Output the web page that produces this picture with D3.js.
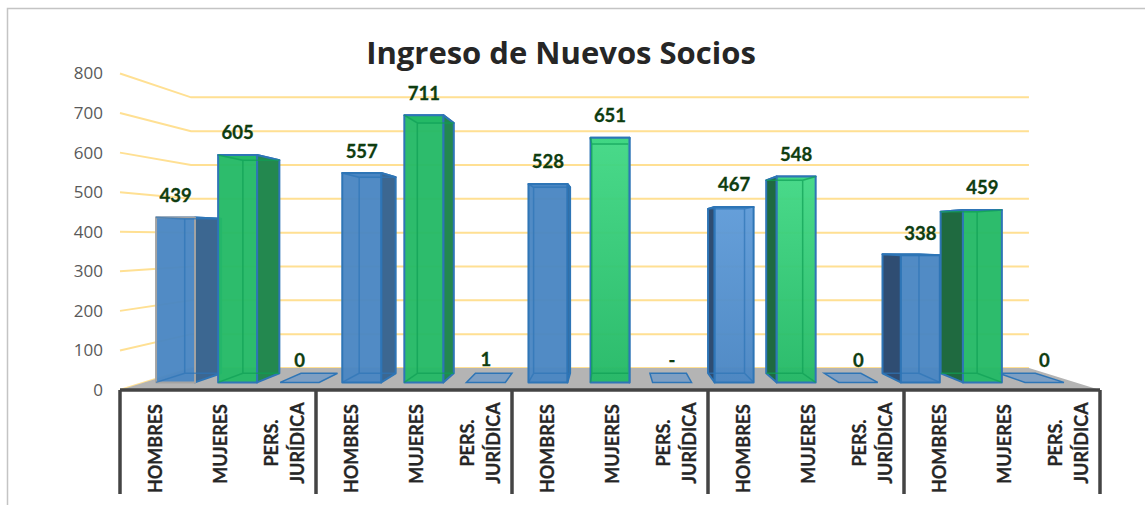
<!DOCTYPE html>
<html>
<head>
<meta charset="utf-8">
<script src="https://cdn.jsdelivr.net/npm/d3@7"></script>
<style>
html, body { margin: 0; padding: 0; background: #fff; }
svg { display: block; }
</style>
</head>
<body>
<svg width="1145" height="505"></svg>
<script>
var title = "Ingreso de Nuevos Socios";
var categories = ["HOMBRES", "MUJERES", "PERS. JURÍDICA"];
var groupCount = 5;
// null is the "-" label of the third group
var values = [439, 605, 0, 557, 711, 1, 528, 651, null, 467, 548, 0, 338, 459, 0];
var ticks = [0, 100, 200, 300, 400, 500, 600, 700, 800];

var svg = d3.select("svg");

// frame, open on the right
svg.append("path")
    .attr("d", "M7.5,505V8.5H1145")
    .attr("fill", "none")
    .attr("stroke", "#c4c4c4")
    .attr("stroke-width", 1.5);

// pseudo 3d: everything is projected towards one vanishing point
var vanishX = 610, vanishY = 238;
var x = d3.scaleBand().domain(d3.range(values.length)).range([120, 1100]);
var y = d3.scaleLinear().domain([0, 800]).range([390, 73.5]);

var wallDepth = 0.855, barFront = 0.95, barBack = 0.89;
var barWidth = 41;

function project(wx, wy, s) {
    return [vanishX + s * (wx - vanishX), vanishY + s * (wy - vanishY)];
}

function poly(points) {
    return "M" + points.map(p => p.join(",")).join("L") + "Z";
}

// gridlines on the side wall and back wall
var grid = svg.append("g").attr("class", "grid");
ticks.forEach(t => {
    grid.append("path")
        .attr("d", d3.line()([
            project(120, y(t), 1),
            project(120, y(t), wallDepth),
            project(1100, y(t), wallDepth)
        ]))
        .attr("fill", "none")
        .attr("stroke", "#ffe093")
        .attr("stroke-width", 2);
});

// floor
svg.append("path")
    .attr("d", poly([
        project(120, y(0), 1),
        project(1100, y(0), 1),
        project(1100, y(0), wallDepth),
        project(120, y(0), wallDepth)
    ]))
    .attr("fill", "#b4b4b4");

var blue = { front: "#4a86c3", frontTop: "#5f9bd8", side: "#3c6791", inner: "#2f4d72" };
var green = { front: "#24b966", frontTop: "#42d885", side: "#23884f", inner: "#1f6a40" };

var bars = values.map((v, i) => ({ i: i, v: v, kind: i % 3 }));

// outer bars first so the ones near the centre sit on top
bars.sort((a, b) => Math.abs(b.i * 65 + 152 - vanishX) - Math.abs(a.i * 65 + 152 - vanishX));

var defs = svg.append("defs");
[["blueFront", blue], ["greenFront", green]].forEach(g => {
    var grad = defs.append("linearGradient").attr("id", g[0])
        .attr("x1", 0).attr("y1", 0).attr("x2", 0).attr("y2", 1);
    grad.append("stop").attr("offset", 0).attr("stop-color", g[1].frontTop);
    grad.append("stop").attr("offset", 1).attr("stop-color", g[1].front);
});

var barG = svg.append("g").attr("class", "bars");

bars.forEach(d => {
    var cx = x(d.i) + x.bandwidth() / 2;
    var l = cx - barWidth / 2, r = cx + barWidth / 2;
    var y0 = y(0), y1 = y(d.v || 0);
    var c = d.kind == 1 ? green : blue;
    var g = barG.append("g");
    var edge = "#2e75b6";

    if (d.kind == 2) {
        // empty category: only the flat base
        g.append("path")
            .attr("d", poly([project(l, y0, barFront), project(r, y0, barFront), project(r, y0, barBack), project(l, y0, barBack)]))
            .attr("fill", "#7e9fc3")
            .attr("stroke", edge)
            .attr("stroke-width", 1.5);
        return;
    }

    var outerSide = cx > vanishX;

    function face(pts, fill, op, stroke) {
        g.append("path")
            .attr("d", poly(pts))
            .attr("fill", fill)
            .attr("fill-opacity", op)
            .attr("stroke", stroke || edge)
            .attr("stroke-width", 2)
            .attr("stroke-linejoin", "round");
    }

    // top
    face([project(l, y1, barFront), project(r, y1, barFront), project(r, y1, barBack), project(l, y1, barBack)], c.front, 1);

    // side wall that faces the viewer
    var sx = outerSide ? l : r;
    face([project(sx, y0, barFront), project(sx, y1, barFront), project(sx, y1, barBack), project(sx, y0, barBack)],
        outerSide ? c.inner : c.side, 1);

    // front; only some of the middle bars fade to a lighter top
    var faded = d.i >= 7 && d.i < 12;
    face([project(l, y0, barFront), project(r, y0, barFront), project(r, y1, barFront), project(l, y1, barFront)],
        faded ? "url(#" + (d.kind == 1 ? "greenFront" : "blueFront") + ")" : c.front,
        0.96, d.i == 0 ? "#a3a3a3" : edge);

    // inner edges of the glass box, showing through the front
    var inner = d3.path();
    var bx = outerSide ? r : l;
    var a = project(bx, y1, barBack), b = project(bx, y0, barBack);
    var e = project(outerSide ? l : r, y0, barBack);
    var f = project(outerSide ? l : r, y1, barBack);
    inner.moveTo(a[0], a[1]);
    inner.lineTo(b[0], b[1]);
    inner.lineTo(e[0], e[1]);
    inner.moveTo(f[0], f[1]);
    inner.lineTo(a[0], a[1]);
    var corner = project(bx, y0, barFront);
    inner.moveTo(b[0], b[1]);
    inner.lineTo(corner[0], corner[1]);
    var corner2 = project(bx, y1, barFront);
    inner.moveTo(a[0], a[1]);
    inner.lineTo(corner2[0], corner2[1]);
    g.append("path")
        .attr("d", inner.toString())
        .attr("fill", "none")
        .attr("stroke", d.kind == 1 ? "#0f9f55" : edge)
        .attr("stroke-opacity", 0.7)
        .attr("stroke-width", 1.5);
});

// value labels
svg.append("g")
    .selectAll("text")
    .data(values)
    .join("text")
    .attr("x", (d, i) => project(x(i) + x.bandwidth() / 2, y(0), barFront)[0])
    .attr("y", d => project(0, y(d || 0), barFront)[1] - 22)
    .attr("dy", "0.35em")
    .attr("text-anchor", "middle")
    .attr("font-family", "Lato")
    .attr("font-weight", 700)
    .attr("font-size", 18.5)
    .attr("fill", "#0f3d10")
    .attr("stroke", "#0f3d10")
    .attr("stroke-width", 0.3)
    .text(d => d === null ? "-" : d);

// bottom axis
var axisG = svg.append("g").attr("stroke", "#444").attr("stroke-width", 3.5);
axisG.append("line")
    .attr("x1", x.range()[0]).attr("x2", x.range()[1])
    .attr("y1", y(0)).attr("y2", y(0));
d3.range(groupCount + 1).forEach(k => {
    var px = x.range()[0] + k * x.step() * categories.length;
    axisG.append("line")
        .attr("x1", px).attr("x2", px)
        .attr("y1", y(0)).attr("y2", 494);
});

// rotated category labels
var labels = svg.append("g")
    .attr("font-family", "Lato")
    .attr("font-weight", 700)
    .attr("font-size", 18)
    .attr("fill", "#262626")
    .attr("stroke", "#262626")
    .attr("stroke-width", 0.3);

values.forEach((v, i) => {
    var name = categories[i % 3];
    var cx = x(i) + x.bandwidth() / 2;
    var words = name.split(" ");
    var two = words.length > 1;
    var t = labels.append("text")
        .attr("transform", "translate(" + cx + "," + (two ? 443 : 404) + ") rotate(-90)")
        .attr("text-anchor", two ? "middle" : "end");
    words.forEach((w, j) => {
        t.append("tspan")
            .attr("x", 0)
            .attr("y", two ? (j == 0 ? -5 : 21) : 9)
            .text(w);
    });
});

// y axis
var axisLeft = d3.axisLeft(y).tickValues(ticks).tickSize(0).tickPadding(16);
svg.append("g")
    .attr("transform", "translate(119,0)")
    .call(axisLeft)
    .call(g => g.select(".domain").remove())
    .selectAll("text")
    .attr("font-family", "Open Sans")
    .attr("font-size", 17)
    .attr("fill", "#595959");

svg.append("text")
    .attr("x", 561)
    .attr("y", 53)
    .attr("dy", "0.35em")
    .attr("text-anchor", "middle")
    .attr("font-family", "Open Sans")
    .attr("font-weight", 700)
    .attr("font-size", 31)
    .attr("fill", "#262626")
    .text(title);
</script>
</body>
</html>
